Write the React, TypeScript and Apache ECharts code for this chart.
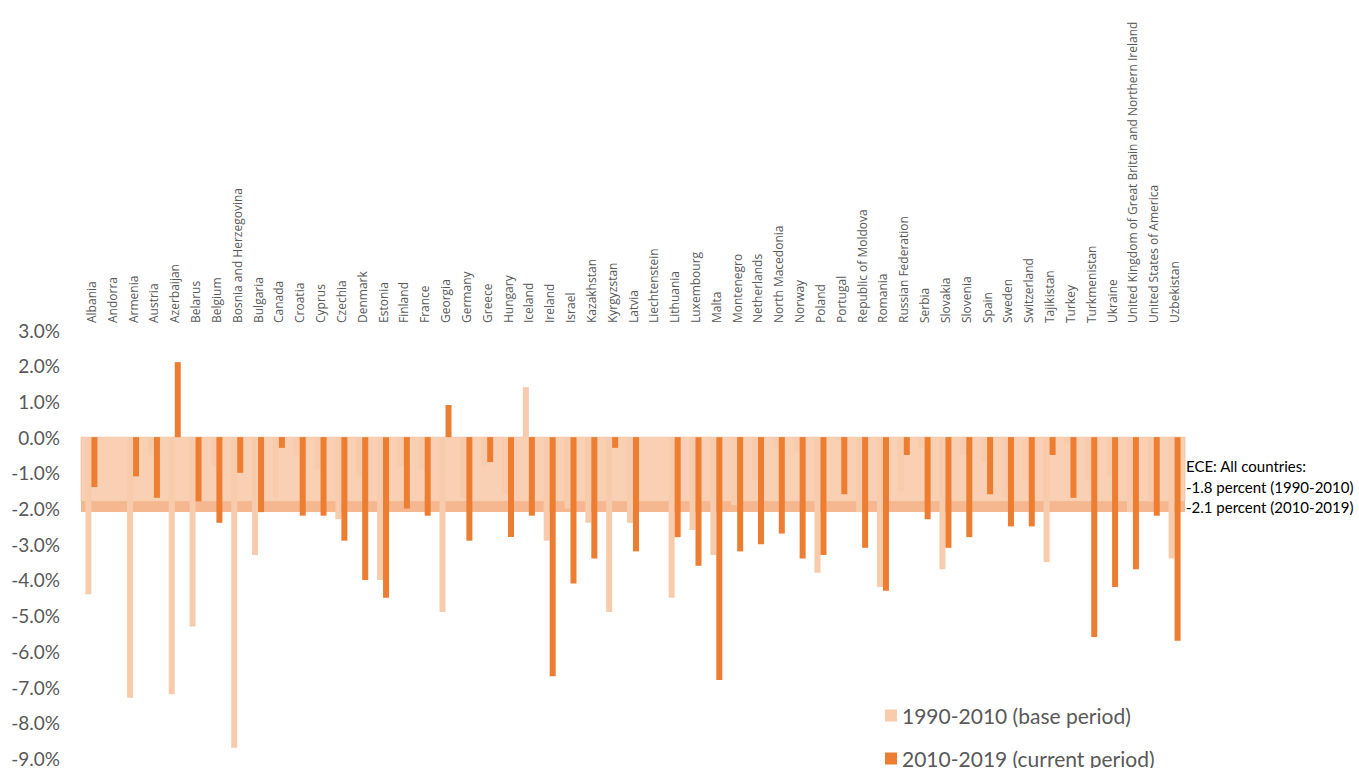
import React, { useEffect, useRef } from "react";
import * as echarts from "echarts";

const categories = [
  "Albania", "Andorra", "Armenia", "Austria", "Azerbaijan", "Belarus", "Belgium",
  "Bosnia and Herzegovina", "Bulgaria", "Canada", "Croatia", "Cyprus", "Czechia",
  "Denmark", "Estonia", "Finland", "France", "Georgia", "Germany", "Greece", "Hungary",
  "Iceland", "Ireland", "Israel", "Kazakhstan", "Kyrgyzstan", "Latvia", "Liechtenstein",
  "Lithuania", "Luxembourg", "Malta", "Montenegro", "Netherlands", "North Macedonia",
  "Norway", "Poland", "Portugal", "Republic of Moldova", "Romania", "Russian Federation",
  "Serbia", "Slovakia", "Slovenia", "Spain", "Sweden", "Switzerland", "Tajikistan",
  "Turkey", "Turkmenistan", "Ukraine",
  "United Kingdom of Great Britain and Northern Ireland", "United States of America",
  "Uzbekistan",
];

const basePeriod = [
  -4.4, null, -7.3, -0.5, -7.2, -5.3, -0.8, -8.7, -3.3, -1.7, -0.5, -0.9, -2.3,
  -1.1, -4.0, -0.8, -0.9, -4.9, -1.7, -0.8, -1.6, 1.4, -2.9, -2.0, -2.4, -4.9,
  -2.4, null, -4.5, -2.6, -3.3, -1.9, -1.2, -0.3, -0.4, -3.8, -0.1, -2.1, -4.2,
  -1.5, -0.3, -3.7, -0.5, -0.7, -1.7, -1.2, -3.5, -0.2, -1.2, -1.1, -2.1, -1.8, -3.4,
];

const currentPeriod = [
  -1.4, null, -1.1, -1.7, 2.1, -1.8, -2.4, -1.0, -2.1, -0.3, -2.2, -2.2, -2.9,
  -4.0, -4.5, -2.0, -2.2, 0.9, -2.9, -0.7, -2.8, -2.2, -6.7, -4.1, -3.4, -0.3,
  -3.2, null, -2.8, -3.6, -6.8, -3.2, -3.0, -2.7, -3.4, -3.3, -1.6, -3.1, -4.3,
  -0.5, -2.3, -3.1, -2.8, -1.6, -2.5, -2.5, -0.5, -1.7, -5.6, -4.2, -3.7, -2.2, -5.7,
];

const seriesNames = ["1990-2010 (base period)", "2010-2019 (current period)"];
const eceBase = -1.8;
const eceCurrent = -2.1;
const annotationLines = [
  "ECE: All countries:",
  "-1.8 percent (1990-2010)",
  "-2.1 percent (2010-2019)",
];

export default function App() {
  const ref = useRef<HTMLDivElement>(null);

  useEffect(() => {
    if (!ref.current) return;
    const chart = echarts.init(ref.current, null, { renderer: "svg" });
    chart.setOption({
      animation: false,
      backgroundColor: "#ffffff",
      grid: { left: 81, right: 174, top: 330, bottom: 6.4, containLabel: false },
      legend: {
        data: seriesNames,
        orient: "vertical",
        left: 885,
        top: 705,
        height: 120,
        padding: 0,
        itemWidth: 12,
        itemHeight: 12,
        itemGap: 22,
        icon: "rect",
        selectedMode: false,
        textStyle: { fontFamily: "Lato", fontSize: 21, color: "#595959", lineHeight: 20 },
      },
      xAxis: {
        type: "category",
        position: "top",
        data: categories,
        axisLine: { show: false },
        axisTick: { show: false },
        axisLabel: {
          interval: 0,
          rotate: 90,
          margin: 7,
          fontFamily: "Open Sans",
          fontSize: 12,
          color: "#595959",
        },
      },
      yAxis: {
        type: "value",
        min: -9,
        max: 3,
        interval: 1,
        axisLine: { show: false },
        axisTick: { show: false },
        splitLine: { show: false },
        axisLabel: {
          margin: 21,
          fontFamily: "Lato",
          fontSize: 19,
          color: "#595959",
          formatter: (v: number) => v.toFixed(1) + "%",
        },
      },
      series: [
        {
          name: seriesNames[0],
          type: "bar",
          data: basePeriod,
          barWidth: 6,
          barGap: "0%",
          itemStyle: { color: "#F8CBAD" },
        },
        {
          name: seriesNames[1],
          type: "bar",
          data: currentPeriod,
          barWidth: 6,
          barGap: "0%",
          itemStyle: { color: "#ED7D31" },
        },
        {
          name: "ECE band",
          type: "line",
          data: [],
          z: 10,
          silent: true,
          markArea: {
            silent: true,
            data: [
              [
                {
                  yAxis: 0,
                  itemStyle: {
                    color: "rgba(247,194,158,0.77)",
                    borderColor: "rgba(240,185,150,0.6)",
                    borderWidth: 1,
                  },
                },
                { yAxis: eceBase },
              ],
              [
                { yAxis: eceBase, itemStyle: { color: "rgba(239,148,88,0.67)" } },
                { yAxis: eceCurrent },
              ],
            ],
          },
        },
      ],
      graphic: [
        {
          type: "text",
          left: 1186,
          top: 456,
          style: {
            text: annotationLines.join("\n"),
            font: "15px Lato",
            fill: "#000000",
            lineHeight: 20.5,
          },
        },
      ],
    });
    return () => chart.dispose();
  }, []);

  return (
    <div
      ref={ref}
      style={{ position: "fixed", left: 0, top: 0, width: 1359, height: 768 }}
    />
  );
}
